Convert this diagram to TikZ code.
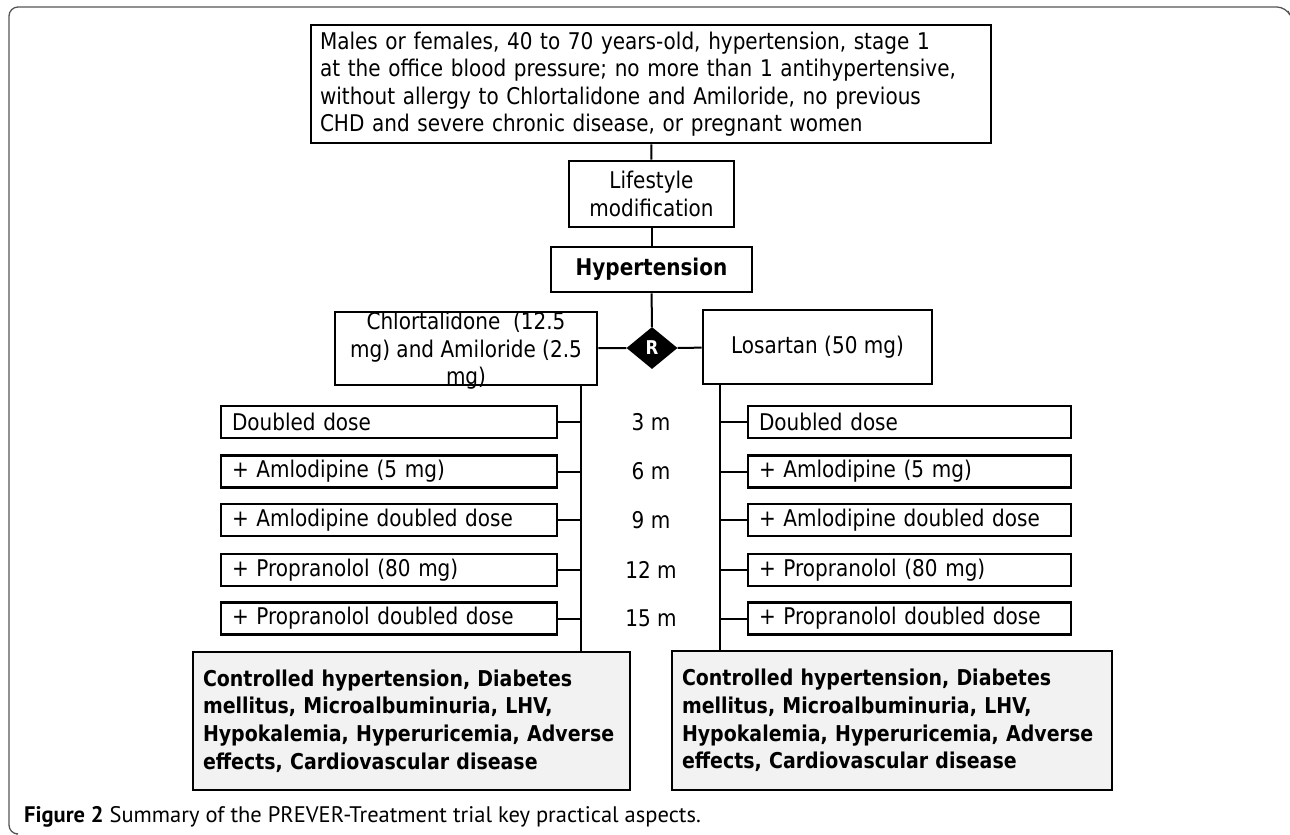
\documentclass[tikz,border=0pt]{standalone}
\usepackage{fontspec}
\setmainfont{DejaVu Sans}[FakeStretch=0.87]
\newfontfamily\capfont{PT Sans}
\usetikzlibrary{shapes.geometric}
\definecolor{framegray}{HTML}{555555}
\definecolor{outfill}{HTML}{F2F2F2}
\begin{document}
\begin{tikzpicture}[x=1pt,y=-1pt,
    box/.style={draw, line width=2.6pt, inner sep=0pt},
    stepl/.style={box, minimum height=32pt, text width=314pt, inner xsep=11pt, align=left},
    stepr/.style={box, minimum height=32pt, text width=301pt, inner xsep=11pt, align=left},
    outbox/.style={box, fill=outfill, inner xsep=10pt, align=left, font=\fontsize{21.8}{27.6}\selectfont\bfseries},
    link/.style={line width=2pt},
    every node/.style={font=\fontsize{23}{27.5}\selectfont}]
    \useasboundingbox (0,0) rectangle (1290,835);
    \draw[framegray, line width=1.3pt, rounded corners=9pt] (1288,11) -- (1286,7) -- (9,7) -- (9,834) -- (16,834);
    \node[box, text width=662pt, inner xsep=9pt, minimum height=118pt, align=left] (elig) at (651,84)
        {Males or females, 40 to 70 years-old, hypertension, stage 1\\
         at the office blood pressure; no more than 1 antihypertensive,\\
         without allergy to Chlortalidone and Amiloride, no previous\\
         CHD and severe chronic disease, or pregnant women};
    \node[box, minimum width=165pt, minimum height=66pt, align=center] (life) at (651.5,194) {Lifestyle\\modification};
    \node[box, minimum width=201pt, minimum height=45pt, font=\fontsize{23}{27.5}\selectfont\bfseries] (hyp) at (651.5,269.5) {Hypertension};
    \node[diamond, fill=black, text=white, inner sep=0pt, minimum width=51pt, minimum height=42pt,
        font=\fontsize{19}{22}\selectfont\bfseries] (rnd) at (652,348) {R};
    \node[box, minimum width=262pt, minimum height=73pt] (chl) at (466,348.5) {};
    \node[align=center, inner sep=0pt] (chltxt) at (466,351) {Chlortalidone \ (12.5\\mg) and Amiloride (2.5\\mg)};
    \node[box, minimum width=229pt, minimum height=74pt] (los) at (817.5,347) {Losartan (50 mg)};
    \coordinate (ltop) at (581,385);
    \coordinate (rtop) at (720,384);
    \foreach \i/\y/\txt/\mo in {1/422/Doubled dose/3 m,
                                2/471.5/+ Amlodipine (5 mg)/6 m,
                                3/520/+ Amlodipine doubled dose/9 m,
                                4/570/+ Propranolol (80 mg)/12 m,
                                5/618.5/+ Propranolol doubled dose/15 m}{
        \node[stepl] (L\i) at (389,\y) {\txt};
        \node[stepr] (R\i) at (909.5,\y) {\txt};
        \node (M\i) at (651,\y) {\mo};
        \draw[link] (L\i.east) -- (L\i.east -| ltop);
        \draw[link] (R\i.west) -- (R\i.west -| rtop);
    }
    \node[outbox, text width=417pt, minimum height=138pt] (lout) at (411.5,721)
        {\hyphenpenalty=10000 Controlled hypertension, Diabetes\\mellitus, Microalbuminuria, LHV,\\Hypokalemia, Hyperuricemia, Adverse\\effects, Cardiovascular disease};
    \node[outbox, text width=420pt, minimum height=139pt] (rout) at (892,720.5)
        {\hyphenpenalty=10000 Controlled hypertension, Diabetes\\mellitus, Microalbuminuria, LHV,\\Hypokalemia, Hyperuricemia, Adverse\\effects, Cardiovascular disease};
    \draw[link] (elig) -- (life);
    \draw[link] (life) -- (hyp);
    \draw[link] (hyp) -- (rnd);
    \draw[link] (chl) -- (rnd);
    \draw[link] (rnd) -- (los);
    \draw[link] (ltop) -- (ltop |- lout.north);
    \draw[link] (rtop) -- (rtop |- rout.north);
    \node[anchor=west, inner sep=0pt, font=\capfont\fontsize{22.5}{24}\selectfont] (cap) at (24,817)
        {\textbf{Figure 2} Summary of the PREVER-Treatment trial key practical aspects.};
\end{tikzpicture}
\end{document}
